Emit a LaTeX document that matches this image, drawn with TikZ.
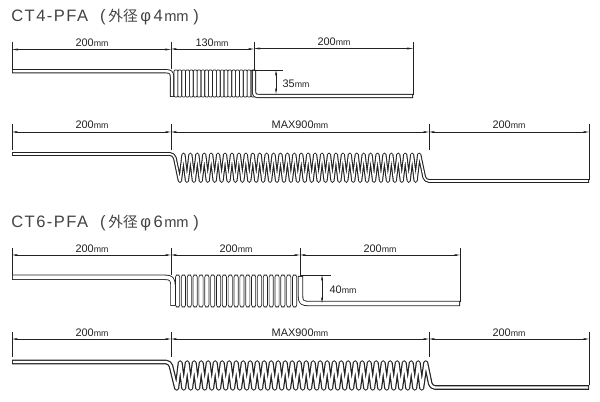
\documentclass[tikz,border=0pt]{standalone}
\usepackage{fontspec}
\setmainfont{Liberation Sans}
\newfontfamily\titlefont[LetterSpace=9]{Liberation Sans}
\newfontfamily\cjkfont{Noto Sans CJK JP}
\usetikzlibrary{arrows.meta}
\definecolor{ink}{HTML}{222222}
\newcommand{\mmu}{{\fontsize{6.6}{8}\selectfont mm}}
\newcommand{\titlemm}{{\fontspec{Liberation Sans}\fontsize{11}{13}\selectfont mm}}
\tikzset{
  x=0.75pt,y=-0.75pt,
  dimline/.style={draw=ink,line width=0.5pt,{Stealth[length=4.5pt,width=1.5pt]}-{Stealth[length=4.5pt,width=1.5pt]}},
  extline/.style={draw=ink,line width=0.5pt},
  dimtext/.style={font=\fontsize{8.2}{9}\selectfont,text=ink,inner sep=0pt},
  titletext/.style={font=\titlefont\fontsize{12.4}{14}\selectfont,text=ink!85,anchor=west,inner sep=0pt},
}
% tube outline: black body, white core
\newcommand{\tubedraw}[3]{% outer, inner, path
  \draw[ink,line width=#1,line join=round] #3;
  \draw[white,line width=#2,line join=round,shorten <=0.7pt,shorten >=0.7pt] #3;
}
% zigzag coil from a bottom point: x0, pitch, n, top, bottom
\newcommand{\wavepath}[5]{%
  \foreach \i in {1,...,#3}{
    -- ({#1+(\i-1)*#2+0.5*#2},#4) -- ({#1+\i*#2},#5)
  }
}
% vertical-strand coil: x0, pitch, n, top, bottom, radius, strand width factor
\newcommand{\strands}[7]{%
  \foreach \i in {1,...,#3}{
    \draw[ink,line width=0.5pt,rounded corners=#6]
      ({#1+(\i-1)*#2},#5) -- ({#1+(\i-1)*#2},#4) -- ({#1+(\i-1)*#2+#7*#2},#4) -- ({#1+(\i-1)*#2+#7*#2},#5) -- cycle;
  }
}
\begin{document}
\begin{tikzpicture}
\useasboundingbox (0,0) rectangle (600,402);
\fill[white] (0,0) rectangle (600,402);

% ---------- CT4 coiled
\node[titletext] (t1) at (11,17.5) {CT4-PFA\hspace{9pt}(\hspace{2pt}{\cjkfont\fontsize{11}{13}\selectfont 外径}\hspace{2pt}φ\hspace{2pt}4\hspace{1pt}\titlemm\hspace{3.5pt})};
\foreach \n/\x/\a/\b in {a/12/42/69,b/171/42/69,c/254/42/95,d/413/42/95}{
  \coordinate (\n1) at (\x,\a); \coordinate (\n2) at (\x,\b);
  \draw[extline] (\n1) -- (\n2);
}
\coordinate (a3) at (12,49.5); \coordinate (b3) at (171,49.5);
\coordinate (b4) at (171,49); \coordinate (c3) at (254,49);
\coordinate (c4) at (254,48.5); \coordinate (d3) at (413,48.5);
\draw[dimline] (a3) -- (b3); \draw[dimline] (b4) -- (c3); \draw[dimline] (c4) -- (d3);
\node[dimtext] (l1) at (92,43) {200\mmu};
\node[dimtext] (l2) at (212,43) {130\mmu};
\node[dimtext] (l3) at (334,42) {200\mmu};
\strands{174}{3.85}{21}{70}{97}{0.8}{1}
\tubedraw{3.2pt}{1.8pt}{(12,71.3) -- (166,71.3) .. controls (170,71.3) and (172,72) .. (172,77) -- (172,97)}
\tubedraw{3.2pt}{1.8pt}{(254,70) -- (254,91) .. controls (254,95) and (255,96) .. (259,96) -- (413,96)}
\coordinate (e1) at (254,70); \coordinate (e2) at (283,70);
\draw[extline] (e1) -- (e2);
\coordinate (f1) at (276,70); \coordinate (f2) at (276,94);
\draw[dimline] (f1) -- (f2);
\node[dimtext] (l4) at (296,84) {35\mmu};

% ---------- CT4 stretched
\foreach \n/\x/\a/\b in {g/12/124/150,h/171/124/150,i/429/124/150,j/589/124/180}{
  \coordinate (\n1) at (\x,\a); \coordinate (\n2) at (\x,\b);
  \draw[extline] (\n1) -- (\n2);
  \coordinate (\n3) at (\x,132);
}
\draw[dimline] (g3) -- (h3); \draw[dimline] (h3) -- (i3); \draw[dimline] (i3) -- (j3);
\node[dimtext] (l5) at (92,124.5) {200\mmu};
\node[dimtext] (l6) at (300,124.5) {MAX900\mmu};
\node[dimtext] (l7) at (509,124.5) {200\mmu};
\tubedraw{2.8pt}{1.2pt}{[rounded corners=3pt] (12,154) -- (174,154) [rounded corners=1.2pt] -- (180,182.5) \wavepath{180}{6.93}{34}{153}{182.5} -- (419.1,153) [rounded corners=3pt] -- (425,181) -- (589,181)}

% ---------- CT6 coiled
\node[titletext] (t2) at (11,223.5) {CT6-PFA\hspace{9pt}(\hspace{2pt}{\cjkfont\fontsize{11}{13}\selectfont 外径}\hspace{2pt}φ\hspace{2pt}6\hspace{1pt}\titlemm\hspace{3.5pt})};
\foreach \n/\x/\a/\b in {k/12/248/275,m/171/248/275,n/300/248/275,o/460/248/302}{
  \coordinate (\n1) at (\x,\a); \coordinate (\n2) at (\x,\b);
  \draw[extline] (\n1) -- (\n2);
  \coordinate (\n3) at (\x,255);
}
\draw[dimline] (k3) -- (m3); \draw[dimline] (m3) -- (n3); \draw[dimline] (n3) -- (o3);
\node[dimtext] (l8) at (92,248.5) {200\mmu};
\node[dimtext] (l9) at (236,248.5) {200\mmu};
\node[dimtext] (l10) at (380,248.5) {200\mmu};
\strands{175.5}{5.85}{21}{275}{307}{1.6}{0.72}
\tubedraw{4pt}{2.7pt}{(12,277.3) -- (165,277.3) .. controls (171,277.3) and (173,279) .. (173,286) -- (173,306)}
\tubedraw{4pt}{2.7pt}{(300.5,276) -- (300.5,296) .. controls (300.5,302) and (302,303.5) .. (309,303.5) -- (460,303.5)}
\coordinate (p1) at (300,275); \coordinate (p2) at (331,275);
\draw[extline] (p1) -- (p2);
\coordinate (q1) at (322,275); \coordinate (q2) at (322,303);
\draw[dimline] (q1) -- (q2);
\node[dimtext] (l11) at (343,290) {40\mmu};

% ---------- CT6 stretched
\foreach \n/\x/\a/\b in {r/12/332/357,s/171/332/357,u/429/332/357,v/589/332/385}{
  \coordinate (\n1) at (\x,\a); \coordinate (\n2) at (\x,\b);
  \draw[extline] (\n1) -- (\n2);
  \coordinate (\n3) at (\x,339);
}
\draw[dimline] (r3) -- (s3); \draw[dimline] (s3) -- (u3); \draw[dimline] (u3) -- (v3);
\node[dimtext] (l12) at (92,332.5) {200\mmu};
\node[dimtext] (l13) at (300,332.5) {MAX900\mmu};
\node[dimtext] (l14) at (509,332.5) {200\mmu};
\tubedraw{3.5pt}{1.7pt}{[rounded corners=3pt] (12,362) -- (170,362) [rounded corners=1.4pt] -- (176.7,389.5) \wavepath{176.7}{7.0}{35}{361.5}{389.5} -- (425.7,361.5) [rounded corners=3pt] -- (431,387.5) -- (589,387.5)}
\end{tikzpicture}
\end{document}
